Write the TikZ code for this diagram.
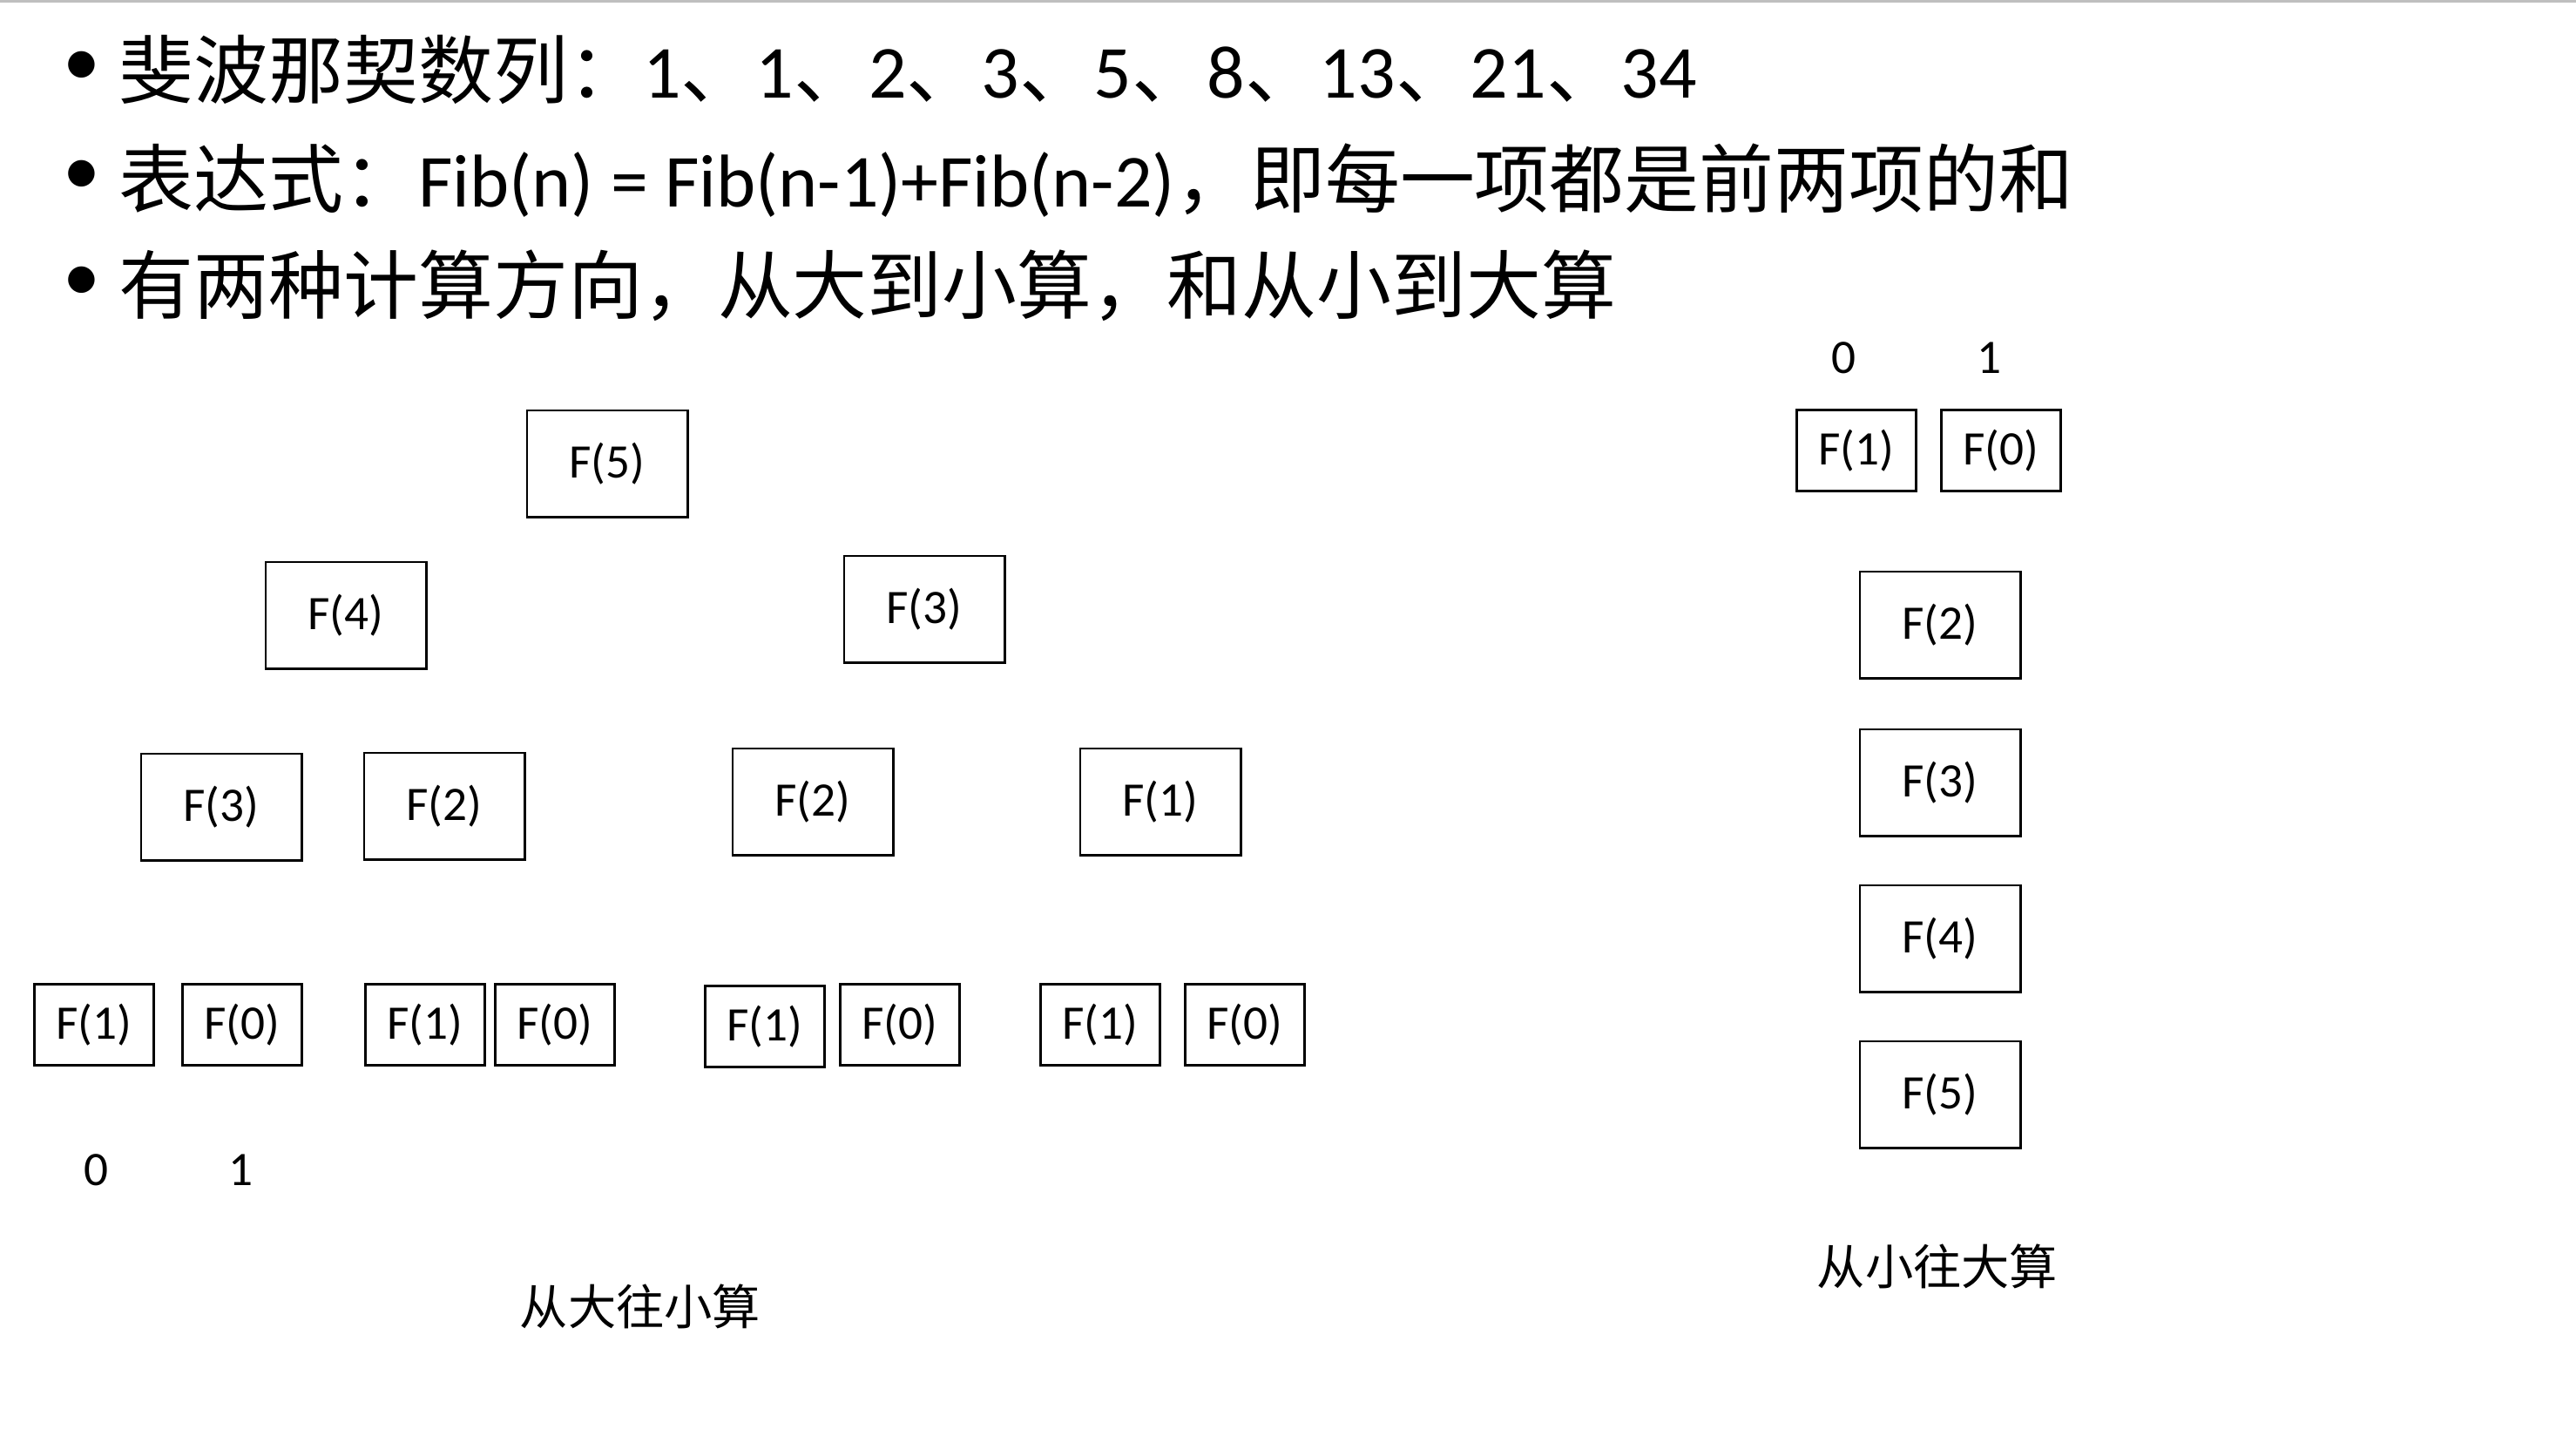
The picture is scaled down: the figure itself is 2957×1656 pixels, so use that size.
\documentclass[tikz,border=0pt]{standalone}
\usepackage{fontspec}
\setmainfont{Carlito}
\newfontfamily\cjk{Noto Sans CJK SC}
\newcommand\zh[1]{{\cjk #1}}
\begin{document}
\begin{tikzpicture}[x=0.11453mm,y=-0.11453mm,
  bigbox/.style={draw,line width=0.9pt,minimum width=21.1mm,minimum height=14mm,inner sep=0pt,font=\fontsize{18}{20}\selectfont},
  smallbox/.style={bigbox,minimum width=15.75mm,minimum height=10.6mm},
  line/.style={inner sep=0pt,anchor=base west,font=\fontsize{28}{32}\selectfont},
  dot/.style={inner sep=0pt,font=\fontsize{28}{32}\selectfont},
  num/.style={inner sep=0pt,font=\fontsize{18}{20}\selectfont},
  note/.style={inner sep=0pt,font=\fontsize{18}{20}\selectfont\cjk}]
  \useasboundingbox (0,0) rectangle (2957,1656);
  \draw[black!25,line width=0.3mm] (0,1.5) -- (2957,1.5);
  \foreach \i/\y in {1/79,2/204,3/326}
    \node[dot] (d\i) at (94,\y) {•};
  \node[line] (l1) at (136,112) {\zh{斐波那契数列：}1\zh{、}1\zh{、}2\zh{、}3\zh{、}5\zh{、}8\zh{、}13\zh{、}21\zh{、}34};
  \node[line] (l2) at (136,237) {\zh{表达式：}Fib(n) = Fib(n-1)+Fib(n-2)\zh{，即每一项都是前两项的和}};
  \node[line] (l3) at (136,359) {\zh{有两种计算方向，从大到小算，和从小到大算}};
  \foreach \nm/\x/\y/\lbl in {t5/697/532/5, t4/397/706/4, t3r/1061/699/3, t3/254/926/3,
      t2/510/925/2, t2r/933/920/2, t1r/1332/920/1,
      u2/2227/717/2, u3/2227/898/3, u4/2227/1077/4, u5/2227/1256/5}
    \node[bigbox] (\nm) at (\x,\y) {F(\lbl)};
  \foreach \nm/\x/\y/\lbl in {a1/108/1176/1, a0/278/1176/0, b1/488/1176/1, b0/637/1176/0,
      c1/878/1178/1, c0/1033/1176/0, e1/1263/1176/1, e0/1429/1176/0,
      u1/2131/517/1, u0/2297/517/0}
    \node[smallbox] (\nm) at (\x,\y) {F(\lbl)};
  \node[num] (n0) at (110,1343) {0};
  \node[num] (n1) at (276,1343) {1};
  \node[num] (m0) at (2116,411) {0};
  \node[num] (m1) at (2283,411) {1};
  \node[note] (down) at (735,1499) {从大往小算};
  \node[note] (up) at (2224,1453) {从小往大算};
\end{tikzpicture}
\end{document}
